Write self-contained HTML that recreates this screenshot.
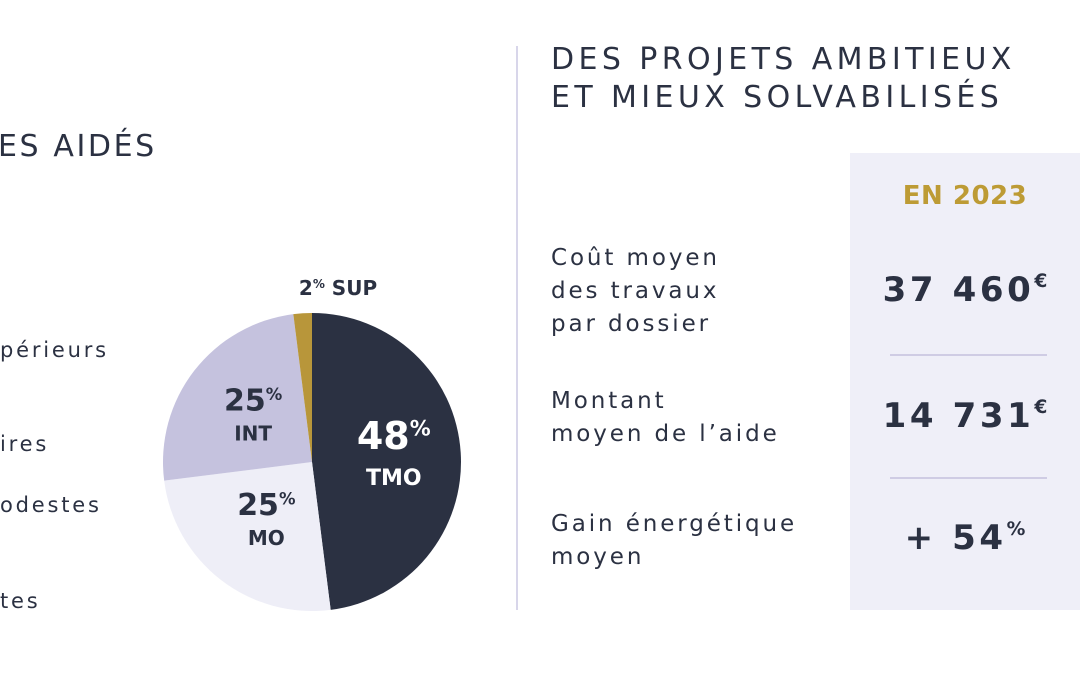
<!DOCTYPE html>
<html><head><meta charset="utf-8">
<style>
body{margin:0;width:1080px;height:675px;background:#fff;position:relative;overflow:hidden;font-family:"DejaVu Sans","Liberation Sans",sans-serif;color:#2b3142}
.a{position:absolute;white-space:nowrap}
.t{font-size:30px;line-height:38px;letter-spacing:4.4px}
.leg{font-size:21px;letter-spacing:2.8px}
.lab{font-size:23px;line-height:33px;letter-spacing:2.9px}
.big{font-weight:bold;font-size:34px;letter-spacing:3.6px;text-align:center;width:230px;left:850px}
sup{font-size:0.55em;vertical-align:0.75em;letter-spacing:0}
</style></head><body>
<div class="a t" style="left:-2px;top:128px;letter-spacing:2.6px">ES AIDÉS</div>
<div class="a leg" style="left:0;top:338px">périeurs</div>
<div class="a leg" style="left:0;top:432px">ires</div>
<div class="a leg" style="left:0;top:493px">odestes</div>
<div class="a leg" style="left:0;top:589px">tes</div>

<svg id="pie" class="a" style="left:0;top:0" width="520" height="675"></svg>

<div class="a" style="left:516px;top:46px;width:2px;height:564px;background:#d8d6ea"></div>

<div class="a t" style="left:551px;top:41px">DES PROJETS AMBITIEUX<br>ET MIEUX SOLVABILISÉS</div>

<div class="a lab" style="left:551px;top:242px">Coût moyen<br>des travaux<br>par dossier</div>
<div class="a lab" style="left:551px;top:385px">Montant<br>moyen de l’aide</div>
<div class="a lab" style="left:551px;top:508px">Gain énergétique<br>moyen</div>

<div class="a" style="left:850px;top:153px;width:230px;height:457px;background:#efeff8"></div>
<div class="a" style="left:850px;width:230px;text-align:center;top:181px;font-size:26px;font-weight:bold;letter-spacing:0.5px;color:#bd9b35">EN 2023</div>
<div class="a big" style="top:270px">37 460<sup>€</sup></div>
<div class="a" style="left:890px;top:354px;width:157px;height:2px;background:#cfcce4"></div>
<div class="a big" style="top:396px">14 731<sup>€</sup></div>
<div class="a" style="left:890px;top:477px;width:157px;height:2px;background:#cfcce4"></div>
<div class="a big" style="top:518px">+ 54<sup>%</sup></div>

<script>
const categories=["TMO","MO","INT","SUP"];
const values=[48,25,25,2];
const colors=["#2b3142","#eeeef7","#c5c2de","#b8963a"];
const svg=document.getElementById('pie');
const NS="http://www.w3.org/2000/svg";
const cx=312,cy=462,r=149;
const total=values.reduce((a,b)=>a+b,0);
function pt(f,rr){const a=f*2*Math.PI;return [cx+rr*Math.sin(a),cy-rr*Math.cos(a)];}
let acc=0;
values.forEach((v,i)=>{
  const f0=acc/total,f1=(acc+v)/total;acc+=v;
  const p0=pt(f0,r),p1=pt(f1,r);
  const p=document.createElementNS(NS,'path');
  p.setAttribute('d',`M${cx},${cy}L${p0[0]},${p0[1]}A${r},${r} 0 ${f1-f0>0.5?1:0} 1 ${p1[0]},${p1[1]}Z`);
  p.setAttribute('fill',colors[i]);
  
  
  svg.appendChild(p);
});
acc=0;
values.forEach((v,i)=>{
  const fm=(acc+v/2)/total;acc+=v;
  const g=document.createElementNS(NS,'text');
  
  
  g.setAttribute('font-family','DejaVu Sans, Liberation Sans, sans-serif');
  g.setAttribute('font-weight','bold');
  g.setAttribute('text-anchor','middle');
  g.setAttribute('fill',i===0?'#fff':'#2b3142');
  if(categories[i]==='SUP'){
    g.setAttribute('x',338);g.setAttribute('y',295);g.setAttribute('font-size',20);
    g.innerHTML=v+'<tspan font-size="12" dy="-7">%</tspan><tspan dy="7"> '+categories[i]+'</tspan>';
  } else {
    const big=i===0;
    const p=pt(fm,r*(big?0.55:0.5));
    const fs=big?38:30;
    g.setAttribute('x',p[0]);g.setAttribute('y',p[1]+(big?-8:-6));g.setAttribute('font-size',fs);
    g.innerHTML=v+'<tspan font-size="'+fs*0.55+'" dy="'+(-fs*0.35)+'">%</tspan>';
    const s=document.createElementNS(NS,'text');
    
    
    s.setAttribute('font-family','DejaVu Sans, Liberation Sans, sans-serif');
    s.setAttribute('font-weight','bold');
    s.setAttribute('text-anchor','middle');
    s.setAttribute('fill',i===0?'#fff':'#2b3142');
    s.setAttribute('font-size',big?22:20);
    s.setAttribute('x',p[0]);s.setAttribute('y',p[1]+(big?28:24));
    s.textContent=categories[i];
    svg.appendChild(s);
  }
  svg.appendChild(g);
});
</script>
</body></html>
